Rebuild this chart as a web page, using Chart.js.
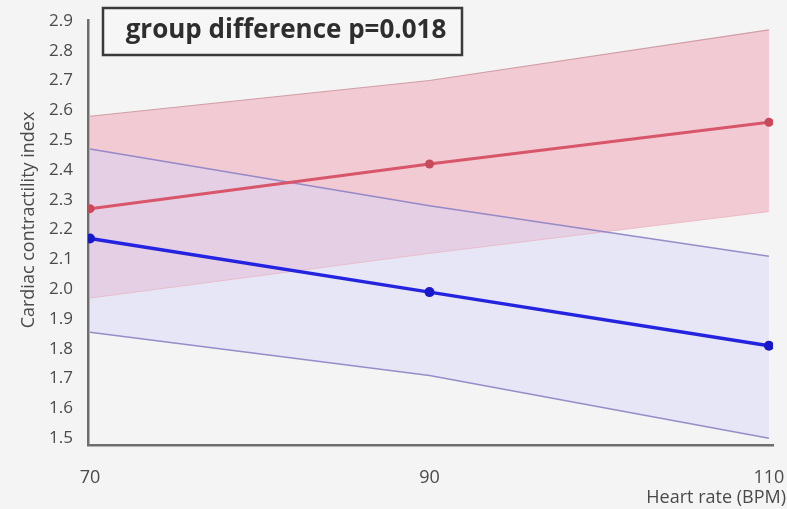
<!DOCTYPE html>
<html>
<head>
<meta charset="utf-8">
<script src="https://cdn.jsdelivr.net/npm/chart.js@4.4.1/dist/chart.umd.min.js"></script>
<style>
  html, body { margin: 0; padding: 0; background: #f4f4f4; }
  #wrap { width: 787px; height: 509px; }
</style>
</head>
<body>
<div id="wrap"><canvas id="c" width="787" height="509"></canvas></div>
<script>
// Heart rate levels (BPM)
const heartRates = [70, 90, 110];
const xTickValues = [70, 90, 110];
const yTickValues = [1.5, 1.6, 1.7, 1.8, 1.9, 2.0, 2.1, 2.2, 2.3, 2.4, 2.5, 2.6, 2.7, 2.8, 2.9];

// Group A (red): fitted contractility and confidence band
const redMean  = [2.27, 2.42, 2.56];
const redUpper = [2.58, 2.70, 2.87];
const redLower = [1.97, 2.12, 2.26];

// Group B (blue): fitted contractility and confidence band
const blueMean  = [2.17, 1.99, 1.81];
const blueUpper = [2.47, 2.28, 2.11];
const blueLower = [1.855, 1.71, 1.50];

const annotationText = 'group difference p=0.018';
const yTitle = 'Cardiac contractility index';
const xTitle = 'Heart rate (BPM)';

const pts = arr => arr.map((v, i) => ({ x: heartRates[i], y: v }));

const FONT = '"Open Sans", "DejaVu Sans", sans-serif';

// Draws the outlined annotation box and axis titles
const overlay = {
  id: 'overlay',
  afterDraw(chart) {
    const ctx = chart.ctx;
    ctx.save();
    // annotation box
    ctx.fillStyle = '#f6f6f6';
    ctx.fillRect(103, 8, 359, 47);
    ctx.strokeStyle = '#3a3a3a';
    ctx.lineWidth = 2.5;
    ctx.strokeRect(103, 8, 359, 47);
    ctx.fillStyle = '#2e2e2e';
    ctx.font = 'bold 26px ' + FONT;
    ctx.textAlign = 'center';
    ctx.textBaseline = 'middle';
    ctx.fillText(annotationText, 286, 31);

    // x axis title
    ctx.fillStyle = '#4a4a4a';
    ctx.font = '18px ' + FONT;
    ctx.textAlign = 'right';
    ctx.textBaseline = 'middle';
    ctx.fillText(xTitle, 786, 498);

    // y axis title
    ctx.translate(29, 220);
    ctx.rotate(-Math.PI / 2);
    ctx.textAlign = 'center';
    ctx.fillText(yTitle, 0, 0);
    ctx.restore();
  }
};

new Chart(document.getElementById('c'), {
  type: 'line',
  data: {
    datasets: [
      { data: pts(redUpper), borderColor: 'rgba(205,150,160,0.9)', borderWidth: 1.2, order: 4,
        backgroundColor: 'rgba(240,150,170,0.45)', fill: '+1', pointRadius: 0, tension: 0 },
      { data: pts(redLower), borderColor: 'rgba(230,170,180,0.6)', borderWidth: 1, order: 5,
        fill: false, pointRadius: 0, tension: 0 },
      { data: pts(blueUpper), borderColor: 'rgba(140,130,195,0.9)', borderWidth: 1.5, order: 2,
        backgroundColor: 'rgba(212,212,248,0.45)', fill: '+1', pointRadius: 0, tension: 0 },
      { data: pts(blueLower), borderColor: 'rgba(140,130,195,0.9)', borderWidth: 1.5, order: 3,
        fill: false, pointRadius: 0, tension: 0 },
      { data: pts(redMean), borderColor: '#d8566a', borderWidth: 3, order: 1,
        pointRadius: 4.5, pointBackgroundColor: '#c8485c', pointBorderWidth: 0,
        fill: false, tension: 0 },
      { data: pts(blueMean), borderColor: '#2424e0', borderWidth: 3.5, order: 0,
        pointRadius: 5, pointBackgroundColor: '#1818c8', pointBorderWidth: 0,
        fill: false, tension: 0 }
    ]
  },
  options: {
    responsive: false,
    animation: false,
    layout: { padding: { top: 20, right: 14, left: 0, bottom: 0 } },
    plugins: {
      legend: { display: false },
      tooltip: { enabled: false },
      filler: { drawTime: 'beforeDatasetsDraw' }
    },
    scales: {
      x: {
        type: 'linear',
        min: 69.88, max: 110.24,
        afterBuildTicks: s => { s.ticks = xTickValues.map(v => ({ value: v })); },
        afterFit: s => { s.height = 64; s.paddingLeft = 0; s.paddingRight = 0; },
        grid: { display: false, drawTicks: false },
        border: { display: true, color: '#6e6e6e', width: 2.5 },
        ticks: { color: '#4a4a4a', font: { family: FONT, size: 18 }, padding: 22, maxRotation: 0 }
      },
      y: {
        type: 'linear',
        min: 1.477, max: 2.903,
        afterBuildTicks: s => { s.ticks = yTickValues.map(v => ({ value: v })); },
        afterFit: s => { s.width = 88; s.paddingTop = 0; s.paddingBottom = 0; },
        grid: { display: false, drawTicks: false },
        border: { display: true, color: '#6e6e6e', width: 2.5 },
        ticks: { color: '#4a4a4a', font: { family: FONT, size: 17 }, padding: 15,
                 callback: v => v.toFixed(1) }
      }
    }
  },
  plugins: [overlay]
});
</script>
</body>
</html>
